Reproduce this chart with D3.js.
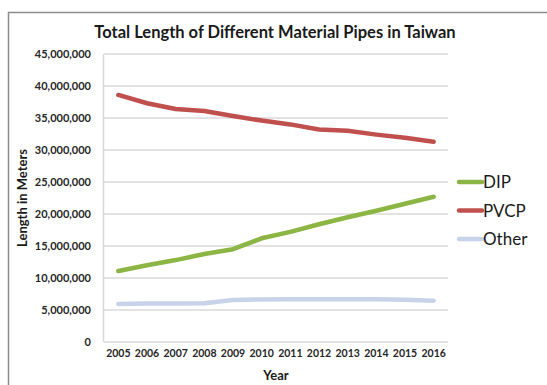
<!DOCTYPE html>
<html>
<head>
<meta charset="utf-8">
<script src="https://cdn.jsdelivr.net/npm/d3@7"></script>
<style>
  html, body { margin: 0; padding: 0; background: #fff; }
  svg { display: block; }
  text { font-family: Lato, "Open Sans", "DejaVu Sans", sans-serif; }
</style>
</head>
<body>
<svg id="chart" width="547" height="385"></svg>
<script>
// Pipe network length by material, Taiwan 2005–2016 (meters)
const years = [2005, 2006, 2007, 2008, 2009, 2010, 2011, 2012, 2013, 2014, 2015, 2016];
const dip   = [11100000, 12000000, 12800000, 13750000, 14500000, 16200000, 17200000, 18400000, 19500000, 20500000, 21600000, 22700000];
const pvcp  = [38600000, 37300000, 36400000, 36100000, 35300000, 34600000, 34000000, 33200000, 33000000, 32400000, 31900000, 31300000];
const other = [5950000, 6000000, 6000000, 6050000, 6550000, 6650000, 6670000, 6670000, 6670000, 6670000, 6620000, 6450000];
const yTicks = [0, 5000000, 10000000, 15000000, 20000000, 25000000, 30000000, 35000000, 40000000, 45000000];

const seriesNames = ["DIP", "PVCP", "Other"];
const seriesColors = ["#8cb544", "#c0504d", "#c7d3e8"];
const seriesValues = [dip, pvcp, other];

const svg = d3.select("#chart");

// Frame around the chart
svg.append("path")
  .attr("d", "M8.5,385 L8.5,12.5 L547,12.5")
  .attr("fill", "none")
  .attr("stroke", "#8c8c8c")
  .attr("stroke-width", 1.5);

const plot = { left: 104, right: 448, top: 54, bottom: 342 };

const x = d3.scaleBand()
  .domain(years)
  .range([plot.left, plot.right]);

const y = d3.scaleLinear()
  .domain([0, 45000000])
  .range([plot.bottom, plot.top]);

// Horizontal gridlines
svg.append("g")
  .selectAll("line")
  .data(yTicks)
  .join("line")
  .attr("x1", plot.left)
  .attr("x2", plot.right)
  .attr("y1", d => y(d))
  .attr("y2", d => y(d))
  .attr("stroke", "#dadada")
  .attr("stroke-width", 1.5);

// Vertical axis line
svg.append("line")
  .attr("x1", plot.left - 0.5).attr("x2", plot.left - 0.5)
  .attr("y1", plot.top).attr("y2", plot.bottom)
  .attr("stroke", "#d9d9d9")
  .attr("stroke-width", 1.5);

// Y axis labels
const yAxis = d3.axisLeft(y)
  .tickValues(yTicks)
  .tickSize(0)
  .tickPadding(13)
  .tickFormat(d3.format(","));
const gy = svg.append("g")
  .attr("transform", `translate(${plot.left},0)`)
  .call(yAxis);
gy.select(".domain").remove();
gy.selectAll("text")
  .attr("font-family", "Lato, 'Open Sans', sans-serif")
  .attr("font-size", 11)
  .attr("font-weight", "bold")
  .attr("fill", "#262626");

// X axis labels
const xAxis = d3.axisBottom(x).tickSize(0).tickPadding(8);
const gx = svg.append("g")
  .attr("transform", `translate(0,${plot.bottom})`)
  .call(xAxis);
gx.select(".domain").remove();
gx.selectAll("text")
  .attr("font-family", "Lato, 'Open Sans', sans-serif")
  .attr("font-size", 10.5)
  .attr("font-weight", "bold")
  .attr("fill", "#262626");

// Series lines
const line = d3.line()
  .x((d, i) => x(years[i]) + x.bandwidth() / 2)
  .y(d => y(d));

svg.append("g")
  .selectAll("path")
  .data(seriesValues)
  .join("path")
  .attr("d", d => line(d))
  .attr("fill", "none")
  .attr("stroke", (d, i) => seriesColors[i])
  .attr("stroke-width", 4.5)
  .attr("stroke-linecap", "round")
  .attr("stroke-linejoin", "round");

// Title
svg.append("text")
  .attr("x", 275)
  .attr("y", 38)
  .attr("text-anchor", "middle")
  .attr("font-size", 16.5)
  .attr("font-weight", "bold")
  .attr("fill", "#1a1a1a")
  .text("Total Length of Different Material Pipes in Taiwan");

// Axis titles
svg.append("text")
  .attr("transform", `translate(27,${(plot.top + plot.bottom) / 2}) rotate(-90)`)
  .attr("text-anchor", "middle")
  .attr("font-size", 13)
  .attr("font-weight", "bold")
  .attr("fill", "#1a1a1a")
  .text("Length in Meters");

svg.append("text")
  .attr("x", (plot.left + plot.right) / 2)
  .attr("y", 380)
  .attr("text-anchor", "middle")
  .attr("font-size", 13)
  .attr("font-weight", "bold")
  .attr("fill", "#1a1a1a")
  .text("Year");

// Legend
const legend = svg.append("g")
  .selectAll("g")
  .data(seriesNames)
  .join("g")
  .attr("transform", (d, i) => `translate(459,${182 + i * 28.5})`);

legend.append("line")
  .attr("x1", 0).attr("x2", 23)
  .attr("y1", 0).attr("y2", 0)
  .attr("stroke", (d, i) => seriesColors[i])
  .attr("stroke-width", 4.5)
  .attr("stroke-linecap", "round");

legend.append("text")
  .attr("x", 24)
  .attr("y", 0)
  .attr("dy", "0.36em")
  .attr("font-size", 17)
  .attr("fill", "#1a1a1a")
  .text(d => d);
</script>
</body>
</html>
